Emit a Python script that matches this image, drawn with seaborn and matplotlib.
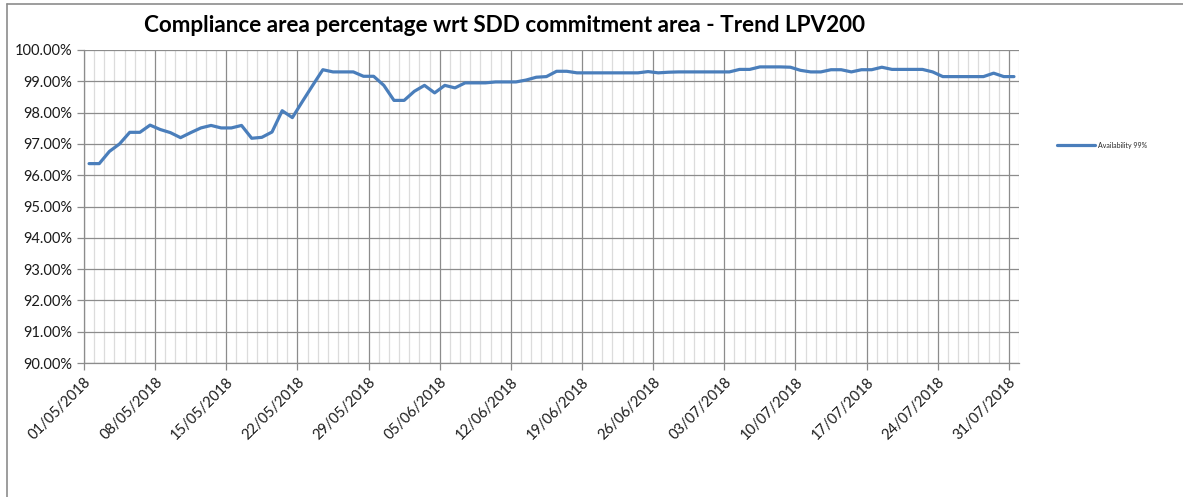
import pandas as pd
import numpy as np
import matplotlib
matplotlib.use('Agg')
import matplotlib.pyplot as plt
import matplotlib.dates as mdates
from matplotlib.lines import Line2D
from matplotlib.ticker import FuncFormatter, MultipleLocator
import seaborn as sns

# Daily availability, 01/05/2018 - 31/07/2018
start_date = '2018-05-01'
end_date = '2018-07-31'
availability = [
    96.37, 96.37, 96.76, 97.00, 97.37, 97.37, 97.60, 97.46, 97.36, 97.20,
    97.36, 97.51, 97.59, 97.51, 97.51, 97.59, 97.18, 97.21, 97.38, 98.06,
    97.84, 98.36, 98.87, 99.37, 99.30, 99.30, 99.30, 99.16, 99.16, 98.87,
    98.39, 98.39, 98.68, 98.87, 98.63, 98.87, 98.79, 98.95, 98.95, 98.95,
    98.98, 98.98, 98.98, 99.04, 99.13, 99.15, 99.32, 99.32, 99.27, 99.27,
    99.27, 99.27, 99.27, 99.27, 99.27, 99.31, 99.27, 99.29, 99.30, 99.30,
    99.30, 99.30, 99.30, 99.30, 99.38, 99.38, 99.46, 99.46, 99.46, 99.45,
    99.35, 99.30, 99.30, 99.37, 99.37, 99.30, 99.37, 99.37, 99.45, 99.38,
    99.38, 99.38, 99.38, 99.30, 99.15, 99.15, 99.15, 99.15, 99.15, 99.26,
    99.15, 99.15,
]
series_label = 'Availability 99%'
title = 'Compliance area percentage wrt SDD commitment area - Trend LPV200'

dates = pd.date_range(start_date, end_date, freq='D')
df = pd.DataFrame({'date': dates, 'value': availability})
# Excel puts each point in the middle of its day band
df['x'] = df['date'] + pd.Timedelta(hours=12)

sns.set_style('white')
plt.rcParams['font.family'] = ['Lato', 'DejaVu Sans']

fig = plt.figure(figsize=(11.83, 4.97), dpi=100)
ax = fig.add_axes([0.071, 0.2696, 0.7904, 0.6298])

sns.lineplot(data=df, x='x', y='value', ax=ax, color='#4a7ebb', linewidth=2.3,
             label=series_label, solid_capstyle='round')

ax.set_xlim(dates[0], dates[-1] + pd.Timedelta(days=1))
ax.set_ylim(90, 100)

# weekly major ticks, daily minor grid
ax.set_xticks(pd.date_range(start_date, end_date, freq='7D'))
ax.xaxis.set_major_formatter(mdates.DateFormatter('%d/%m/%Y'))
ax.xaxis.set_minor_locator(mdates.DayLocator())
ax.yaxis.set_major_locator(MultipleLocator(1))
ax.yaxis.set_major_formatter(FuncFormatter(lambda v, p: f'{v:.2f}%'))

ax.grid(which='minor', axis='x', color='#dcdcdc', linewidth=0.9)
ax.grid(which='major', axis='x', color='#8c8c8c', linewidth=0.9)
ax.grid(which='major', axis='y', color='#8c8c8c', linewidth=0.9)
ax.set_axisbelow(True)

for s in ['top', 'right']:
    ax.spines[s].set_visible(False)
for s in ['left', 'bottom']:
    ax.spines[s].set_color('#8c8c8c')
    ax.spines[s].set_linewidth(0.9)

ax.tick_params(axis='both', which='major', length=5, width=0.9, color='#8c8c8c',
               labelsize=10.5, labelcolor='#1a1a1a', left=True, bottom=True)
ax.tick_params(axis='x', which='minor', length=0)
plt.setp(ax.get_xticklabels(), rotation=45, ha='right', rotation_mode='anchor')
ax.set_xlabel('')
ax.set_ylabel('')

fig.suptitle(title, x=0.4265, y=0.97, fontsize=16.2, fontweight='bold', color='#000000')

ax.legend(loc='center left', bbox_to_anchor=(0.891, 0.708), bbox_transform=fig.transFigure,
          frameon=False, fontsize=5, handlelength=5.5, handletextpad=0.4, borderaxespad=0)

# chart border
fig.add_artist(Line2D([0.006, 0.006], [0.0, 0.992], transform=fig.transFigure,
                      color='#8c8c8c', linewidth=1.2))
fig.add_artist(Line2D([0.006, 1.0], [0.992, 0.992], transform=fig.transFigure,
                      color='#8c8c8c', linewidth=1.2))

fig.savefig('out.png', dpi=100)
